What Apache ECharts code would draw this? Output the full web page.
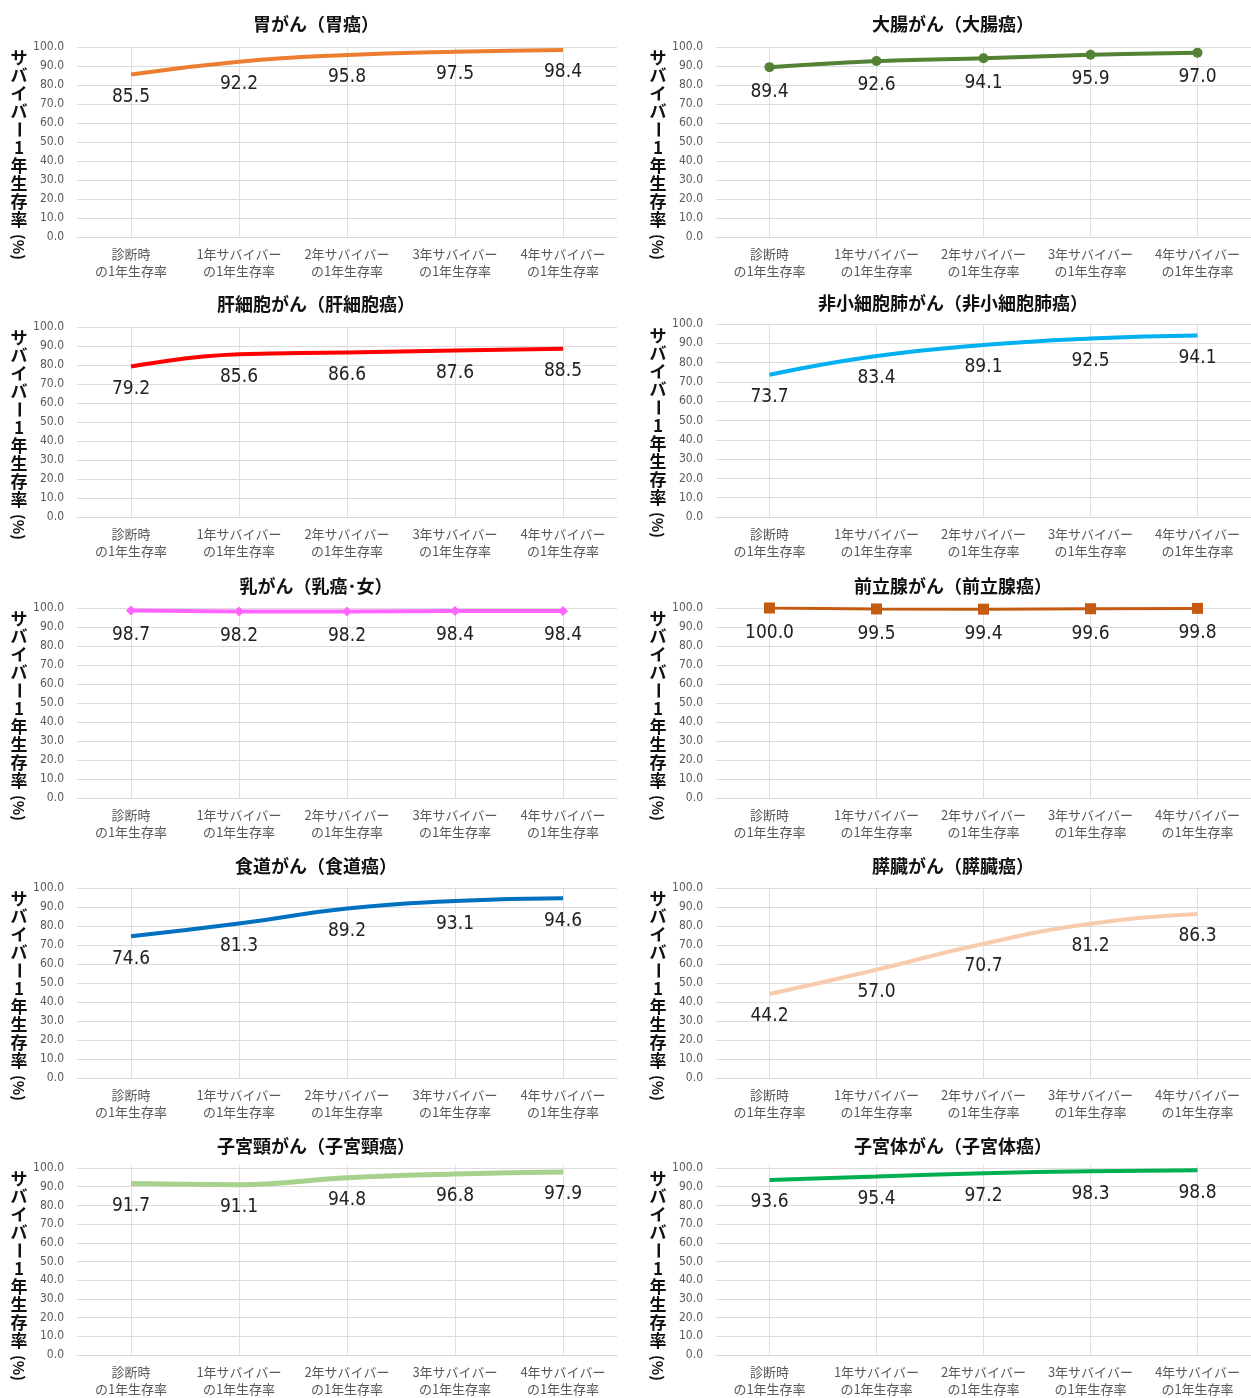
<!DOCTYPE html>
<html><head><meta charset="utf-8">
<script src="https://cdn.jsdelivr.net/npm/echarts@6/dist/echarts.min.js"></script>
<style>html,body{margin:0;padding:0;background:#fff}#c{width:1251px;height:1398px}</style>
</head><body><div id="c"></div>
<script>
// ---- data ----
const categories = ['診断時\nの1年生存率','1年サバイバー\nの1年生存率','2年サバイバー\nの1年生存率','3年サバイバー\nの1年生存率','4年サバイバー\nの1年生存率'];
const titles = ['胃がん（胃癌）','大腸がん（大腸癌）','肝細胞がん（肝細胞癌）','非小細胞肺がん（非小細胞肺癌）','乳がん（乳癌･女）','前立腺がん（前立腺癌）','食道がん（食道癌）','膵臓がん（膵臓癌）','子宮頸がん（子宮頸癌）','子宮体がん（子宮体癌）'];
const yAxisTitle = 'サバイバー1年生存率';
const yAxisUnit = '(%)';
const stomach    = [85.5, 92.2, 95.8, 97.5, 98.4];
const colorectal = [89.4, 92.6, 94.1, 95.9, 97.0];
const liver      = [79.2, 85.6, 86.6, 87.6, 88.5];
const nsclc      = [73.7, 83.4, 89.1, 92.5, 94.1];
const breast     = [98.7, 98.2, 98.2, 98.4, 98.4];
const prostate   = [100.0, 99.5, 99.4, 99.6, 99.8];
const esophagus  = [74.6, 81.3, 89.2, 93.1, 94.6];
const pancreas   = [44.2, 57.0, 70.7, 81.2, 86.3];
const cervix     = [91.7, 91.1, 94.8, 96.8, 97.9];
const uterus     = [93.6, 95.4, 97.2, 98.3, 98.8];
const seriesData = [stomach, colorectal, liver, nsclc, breast, prostate, esophagus, pancreas, cervix, uterus];

// ---- styles ----
const styles = [
  {color:'#ED7D31', width:4, smooth:true,  symbol:'none'},
  {color:'#548235', width:4, smooth:0.3,   symbol:'circle', size:10},
  {color:'#FF0000', width:4, smooth:true,  symbol:'none'},
  {color:'#00B0F0', width:4, smooth:true,  symbol:'none'},
  {color:'#FF66FF', width:4, smooth:false, symbol:'diamond', size:10},
  {color:'#C55A11', width:3, smooth:false, symbol:'rect', size:11},
  {color:'#0070C0', width:4, smooth:true,  symbol:'none'},
  {color:'#F8CBAD', width:4, smooth:true,  symbol:'none'},
  {color:'#A9D18E', width:5, smooth:true,  symbol:'none'},
  {color:'#00B050', width:4, smooth:true,  symbol:'none'}
];
const rowTops = [47, 327, 608, 888, 1168];
const titleCenters = [22, 302, 584, 864, 1144];
const colLeft = [77, 716], colWidth = [540, 539], colTitleX = [311, 948], colYTitleX = [19, 658];

const grids=[], xAxes=[], yAxes=[], series=[], titleComps=[], graphics=[];
const tickFont = '"Liberation Sans Narrow", "DejaVu Sans Condensed", sans-serif';
const jpFont = '"Noto Sans CJK JP", sans-serif';

for (let i=0;i<10;i++){
  const col=i%2, row=Math.floor(i/2);
  let top=rowTops[row], h=190;
  if (i===3){ top=324; h=193; }
  grids.push({left:colLeft[col], top:top, width:colWidth[col], height:h});
  xAxes.push({
    type:'category', gridIndex:i, data:categories, boundaryGap:true,
    axisLine:{show:true, lineStyle:{color:'#D9D9D9', width:1}},
    axisTick:{show:true, alignWithLabel:true, inside:true, length:h, lineStyle:{color:'#E0E0E0', width:1}},
    axisLabel:{interval:0, fontSize:13, color:'#595959', lineHeight:17, margin:9, fontFamily:jpFont},
    splitLine:{show:false}
  });
  yAxes.push({
    type:'value', gridIndex:i, min:0, max:100, interval:10,
    axisLine:{show:false}, axisTick:{show:false},
    splitLine:{show:true, lineStyle:{color:'#DCDCDC', width:1}},
    axisLabel:{formatter:v=>v.toFixed(1), fontSize:12, color:'#595959', margin:13, fontFamily:tickFont}
  });
  const s=styles[i];
  const hidden = s.symbol==='none';
  series.push({
    type:'line', xAxisIndex:i, yAxisIndex:i, data:seriesData[i],
    smooth:s.smooth, symbol: hidden ? 'circle' : s.symbol, symbolSize: hidden ? 0.01 : s.size, showSymbol:true,
    lineStyle:{color:s.color, width:s.width}, itemStyle:{color:s.color},
    label:{show:true, position:'bottom', distance: hidden ? 13 : 10, formatter:p=>p.value.toFixed(1),
      fontSize:19, color:'#222', fontFamily:tickFont},
    emphasis:{disabled:true}, z:3
  });
  titleComps.push({
    text:titles[i], left:colTitleX[col], top:titleCenters[row]-12 - (i===3?1:0), textAlign:'center',
    textStyle:{fontSize:18, fontWeight:'bold', color:'#111', fontFamily:jpFont}
  });
  // vertical y-axis title
  const chars = Array.from(yAxisTitle);
  const baseY = top + 11 + (i===3?1:0);
  chars.forEach((ch,k)=>{
    graphics.push({type:'text', x:colYTitleX[col], y:baseY+17.9*k,
      rotation: ch==='ー' ? -Math.PI/2 : 0,
      style:{text:ch, fill:'#111', font:'bold 17px "Noto Sans CJK JP"', align:'center', verticalAlign:'middle'}});
  });
  graphics.push({type:'text', x:colYTitleX[col], y:baseY+17.9*chars.length+10,
    rotation:-Math.PI/2,
    style:{text:yAxisUnit, fill:'#111', font:'bold 15px "Noto Sans CJK JP"', align:'center', verticalAlign:'middle'}});
}

const chart = echarts.init(document.getElementById('c'), null, {renderer:'canvas'});
chart.setOption({
  backgroundColor:'#fff', animation:false,
  title:titleComps, grid:grids, xAxis:xAxes, yAxis:yAxes, series:series,
  graphic:graphics
});
</script></body></html>
